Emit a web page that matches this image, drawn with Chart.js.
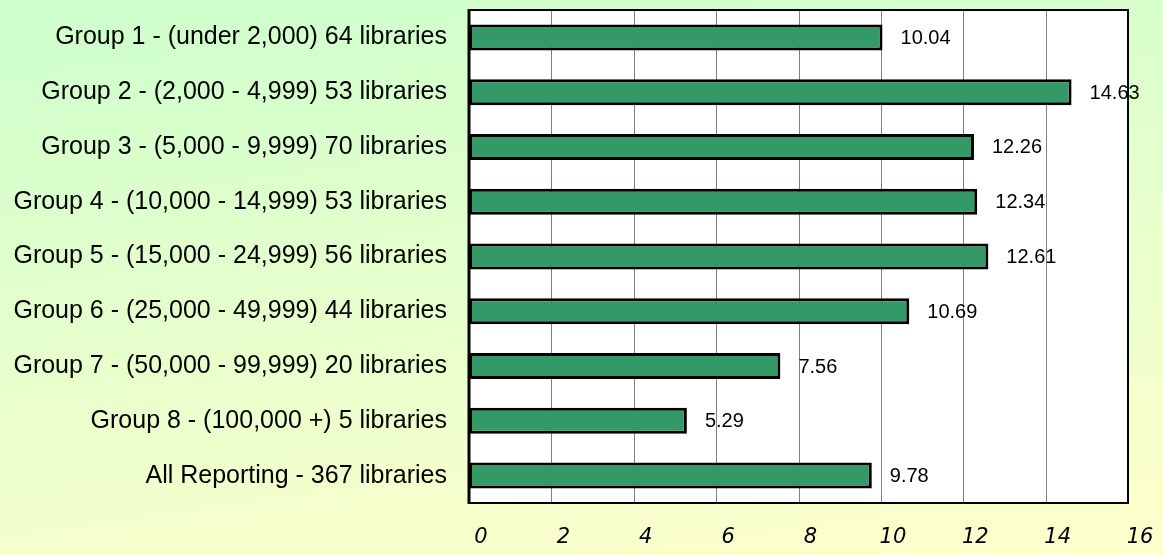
<!DOCTYPE html>
<html>
<head>
<meta charset="utf-8">
<script src="https://cdn.jsdelivr.net/npm/chart.js@4.4.1/dist/chart.umd.min.js"></script>
<style>
  html, body { margin: 0; padding: 0; }
  body { width: 1163px; height: 555px; background: linear-gradient(172deg, #ccffcc 0%, #e6ffcc 50%, #ffffcc 100%); }
  #wrap { position: relative; width: 1163px; height: 555px; }
</style>
</head>
<body>
<div id="wrap"><canvas id="c" width="1163" height="555"></canvas></div>
<script>
const categories = [
  "Group 1 - (under 2,000) 64 libraries",
  "Group 2 - (2,000 - 4,999) 53 libraries",
  "Group 3 - (5,000 - 9,999) 70 libraries",
  "Group 4 - (10,000 - 14,999) 53 libraries",
  "Group 5 - (15,000 - 24,999) 56 libraries",
  "Group 6 - (25,000 - 49,999) 44 libraries",
  "Group 7 - (50,000 - 99,999) 20 libraries",
  "Group 8 - (100,000 +) 5 libraries",
  "All Reporting - 367 libraries"
];
const values = [10.04, 14.63, 12.26, 12.34, 12.61, 10.69, 7.56, 5.29, 9.78];
const xTicks = [0, 2, 4, 6, 8, 10, 12, 14, 16];

const frame = {
  id: 'frame',
  beforeDatasetsDraw(chart) {
    const a = chart.chartArea, ctx = chart.ctx;
    ctx.save();
    ctx.fillStyle = '#ffffff';
    ctx.fillRect(a.left, a.top, a.right - a.left, a.bottom - a.top);
    const xs = chart.scales.x;
    ctx.strokeStyle = '#808080';
    ctx.lineWidth = 1;
    xs.ticks.forEach(t => {
      const px = Math.round(xs.getPixelForValue(t.value)) + 0.5;
      ctx.beginPath(); ctx.moveTo(px, a.top); ctx.lineTo(px, a.bottom); ctx.stroke();
    });
    ctx.restore();
  },
  afterDraw(chart) {
    const a = chart.chartArea, ctx = chart.ctx;
    ctx.save();
    ctx.strokeStyle = '#000000';
    ctx.lineWidth = 2;
    ctx.strokeRect(a.left, a.top, a.right - a.left, a.bottom - a.top);
    ctx.fillStyle = '#000000';
    ctx.fillRect(a.left - 1.5, a.top - 1, 3, a.bottom - a.top + 2);
    const meta = chart.getDatasetMeta(0);
    ctx.font = '20px "Liberation Sans", Arial, sans-serif';
    ctx.textAlign = 'left';
    ctx.textBaseline = 'middle';
    meta.data.forEach((el, i) => {
      ctx.fillText(values[i].toFixed(2), el.x + 18, el.y + 1);
    });
    ctx.restore();
  }
};

new Chart(document.getElementById('c'), {
  type: 'bar',
  data: {
    labels: categories,
    datasets: [{
      data: values,
      backgroundColor: '#339966',
      borderColor: '#000000',
      borderWidth: 3,
      borderSkipped: false,
      barPercentage: 0.475,
      categoryPercentage: 1
    }]
  },
  options: {
    indexAxis: 'y',
    responsive: false,
    animation: false,
    layout: { padding: { top: 10, right: 35, left: 0, bottom: 0 } },
    plugins: { legend: { display: false }, tooltip: { enabled: false } },
    scales: {
      x: {
        min: 0, max: 16,
        afterBuildTicks(s) { s.ticks = xTicks.map(v => ({ value: v })); },
        afterFit(s) { s.height = 52; s.paddingLeft = 0; s.paddingRight = 0; },
        grid: { display: false, drawTicks: false },
        border: { display: false },
        ticks: {
          padding: 22,
          labelOffset: 12,
          color: '#000000',
          font: { family: '"DejaVu Sans", "Liberation Sans", sans-serif', size: 21, style: 'italic' }
        }
      },
      y: {
        afterFit(s) { s.width = 469; s.paddingTop = 0; s.paddingBottom = 0; },
        grid: { display: false, drawTicks: false },
        border: { display: false },
        ticks: {
          padding: 22,
          color: '#000000',
          font: { family: '"Liberation Sans", Arial, sans-serif', size: 25 }
        }
      }
    }
  },
  plugins: [frame]
});
</script>
</body>
</html>
